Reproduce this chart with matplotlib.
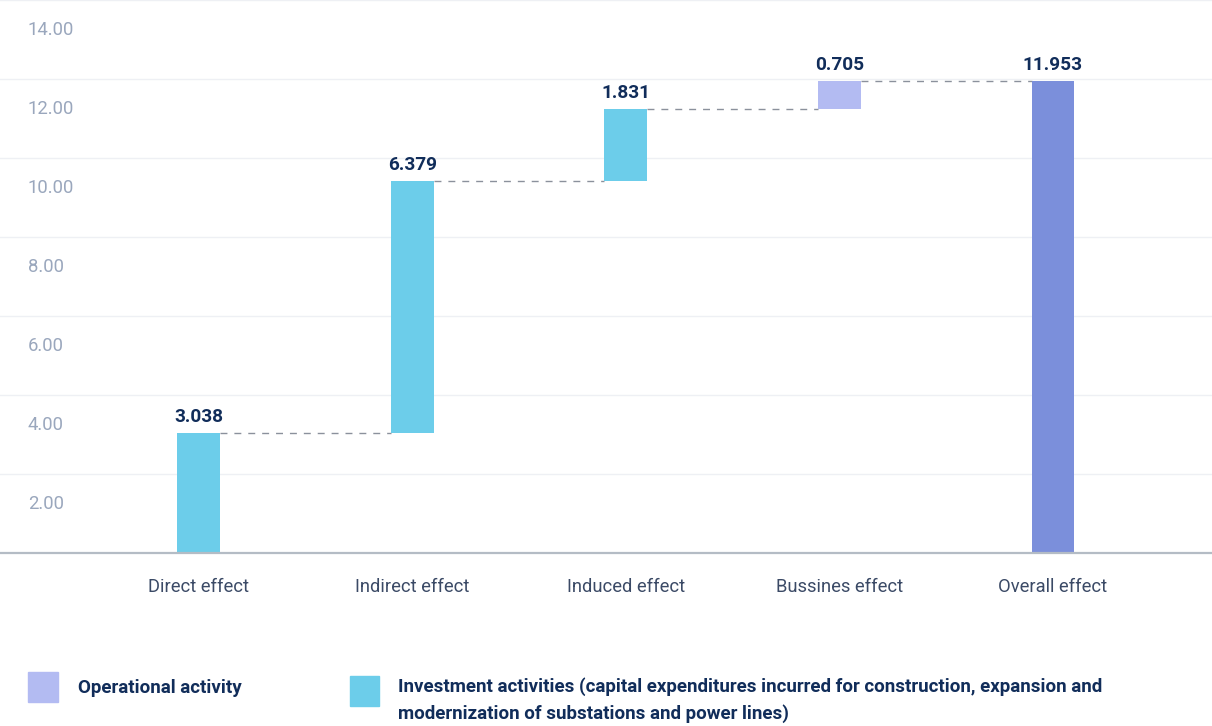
import matplotlib
matplotlib.use("Agg")
import matplotlib.pyplot as plt
import matplotlib.transforms as mtransforms
from matplotlib.patches import Rectangle
import numpy as np

plt.rcParams['font.family'] = ['Roboto', 'DejaVu Sans']

# Data
categories = ["Direct effect", "Indirect effect", "Induced effect",
              "Bussines effect", "Overall effect"]
effects = [3.038, 6.379, 1.831, 0.705]
overall = 11.953
kinds = ["investment", "investment", "investment", "operational"]
yticks = [2, 4, 6, 8, 10, 12, 14]
legend_labels = [
    "Operational activity",
    "Investment activities (capital expenditures incurred for construction, expansion and\n"
    "modernization of substations and power lines)",
]

# Colours
c_invest = "#6ccdea"
c_oper = "#b3bbf2"
c_total = "#7b8fdb"
c_navy = "#112d5a"
c_tick = "#9aa7bd"
c_cat = "#3b4a66"

fig = plt.figure(figsize=(12.12, 7.26), dpi=100)
ax = fig.add_axes([0, (726 - 553) / 726, 1, 553 / 726])

x = np.arange(len(categories))
width = 0.2
bottoms = np.concatenate([[0], np.cumsum(effects)[:-1]])
tops = np.cumsum(effects)
colors = [c_invest if k == "investment" else c_oper for k in kinds]

# gridlines
for v in yticks:
    ax.axhline(v, color="#eef0f4", lw=1, zorder=0)

# waterfall bars
ax.bar(x[:-1], effects, width, bottom=bottoms, color=colors, zorder=2)
ax.bar(x[-1], overall, width, color=c_total, zorder=2)

# dashed connectors between consecutive bars
for i in range(len(effects)):
    ax.plot([x[i] + width / 2, x[i + 1] - width / 2], [tops[i], tops[i]],
            ls=(0, (5, 5)), color="#8b919c", lw=1, zorder=1)

# value labels
vals = effects + [overall]
label_y = list(tops) + [overall]
for xi, yi, v in zip(x, label_y, vals):
    ax.annotate("%.3f" % v, (xi, yi), xytext=(0, 5), textcoords="offset points",
                ha="center", va="bottom", fontsize=13.7, fontweight="bold",
                color=c_navy)

ax.set_xlim(-0.93, 4.745)
ax.set_ylim(0, 14)

# y labels sit a little below their gridlines
lab_tr = mtransforms.offset_copy(ax.get_yaxis_transform(), fig=fig,
                                 y=-30, units="dots")
for v in yticks:
    ax.text(0.023, v, "%.2f" % v, transform=lab_tr, ha="left", va="center",
            fontsize=13.3, color=c_tick)
ax.set_yticks([])

ax.set_xticks(x)
ax.set_xticklabels(categories, fontsize=13.2, color=c_cat)
ax.tick_params(axis="x", length=0, pad=18)

for s in ["top", "right", "left"]:
    ax.spines[s].set_visible(False)
ax.spines["bottom"].set_color("#b4bcc5")
ax.spines["bottom"].set_linewidth(1.6)
ax.spines["bottom"].set_zorder(3)

# legend
fig.patches.append(Rectangle((28 / 1212, 1 - 702 / 726), 30 / 1212, 30 / 726,
                             transform=fig.transFigure, color=c_oper))
fig.text(78 / 1212, 1 - 688 / 726, legend_labels[0], fontsize=13.5,
         fontweight="bold", color=c_navy, va="center")
fig.patches.append(Rectangle((350 / 1212, 1 - 706 / 726), 29 / 1212, 30 / 726,
                             transform=fig.transFigure, color=c_invest))
fig.text(398 / 1212, 1 - 677 / 726, legend_labels[1], fontsize=13.5,
         fontweight="bold", color=c_navy, va="top", linespacing=1.6)

fig.savefig("out.png", dpi=100)
